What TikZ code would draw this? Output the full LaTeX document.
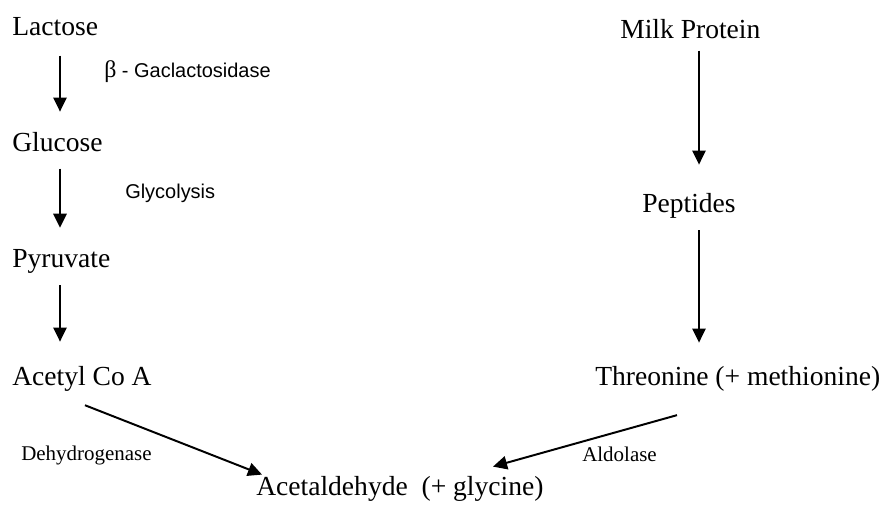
\documentclass[tikz,border=0pt]{standalone}
\usepackage{fontspec}
\setmainfont{Liberation Serif}
\setsansfont{Liberation Sans}
\usepackage{tikz}
\usetikzlibrary{arrows.meta, positioning}

\begin{document}
\begin{tikzpicture}[x=0.025cm, y=-0.025cm,
        metab/.style={inner sep=0pt, anchor=base west, font=\fontsize{19.6}{23}\selectfont},
        enzyme/.style={inner sep=0pt, anchor=base west, font=\fontsize{14.9}{18}\selectfont},
        enzyme_sf/.style={inner sep=0pt, anchor=base west, font=\sffamily\fontsize{14.2}{17}\selectfont},
        arrow/.style={-{Triangle[length=10pt, width=9.5pt]}, line width=1.4pt, black}
    ]
    \useasboundingbox (0,0) rectangle (890,506);

    % Lactose pathway
    \node[metab] (lactose)  at (12, 35)  {Lactose};
    \node[metab] (glucose)  at (12, 151) {Glucose};
    \node[metab] (pyruvate) at (12, 267) {Pyruvate};
    \node[metab] (acetyl)   at (12, 385) {Acetyl Co A};

    % Protein pathway
    \node[metab] (milk)      at (620, 38)  {Milk Protein};
    \node[metab] (peptides)  at (642, 212) {Peptides};
    \node[metab] (threonine) at (595, 385) {Threonine (+ methionine)};

    % Product
    \node[metab] (acetald) at (256, 495) {Acetaldehyde\ \ (+ glycine)};

    % Enzymes
    \node[enzyme_sf] (galact) at (104, 77)
        {{\rmfamily\fontsize{17}{18}\selectfont β} - Gaclactosidase};
    \node[enzyme_sf] (glyco) at (125, 198) {Glycolysis};
    \node[enzyme] (dehydro) at (21, 460) {Dehydrogenase};
    \node[enzyme] (aldol)   at (582, 461) {Aldolase};

    % Connections
    \draw[arrow] ([shift={(48,20)}]lactose.south west)  -- ([shift={(48,-20)}]glucose.north west);
    \draw[arrow] ([shift={(48,17)}]glucose.south west)  -- ([shift={(48,-21)}]pyruvate.north west);
    \draw[arrow] ([shift={(48,12)}]pyruvate.south west) -- ([shift={(48,-24)}]acetyl.north west);
    \draw[arrow] ([shift={(79,12)}]milk.south west)     -- ([shift={(57,-28)}]peptides.north west);
    \draw[arrow] ([shift={(57,12)}]peptides.south west) -- ([shift={(104,-23)}]threonine.north west);
    \draw[arrow] ([shift={(73,14)}]acetyl.south west)   -- ([shift={(6,-1)}]acetald.north west);
    \draw[arrow] ([shift={(82,24)}]threonine.south west) -- ([shift={(237,-9)}]acetald.north west);

\end{tikzpicture}
\end{document}
